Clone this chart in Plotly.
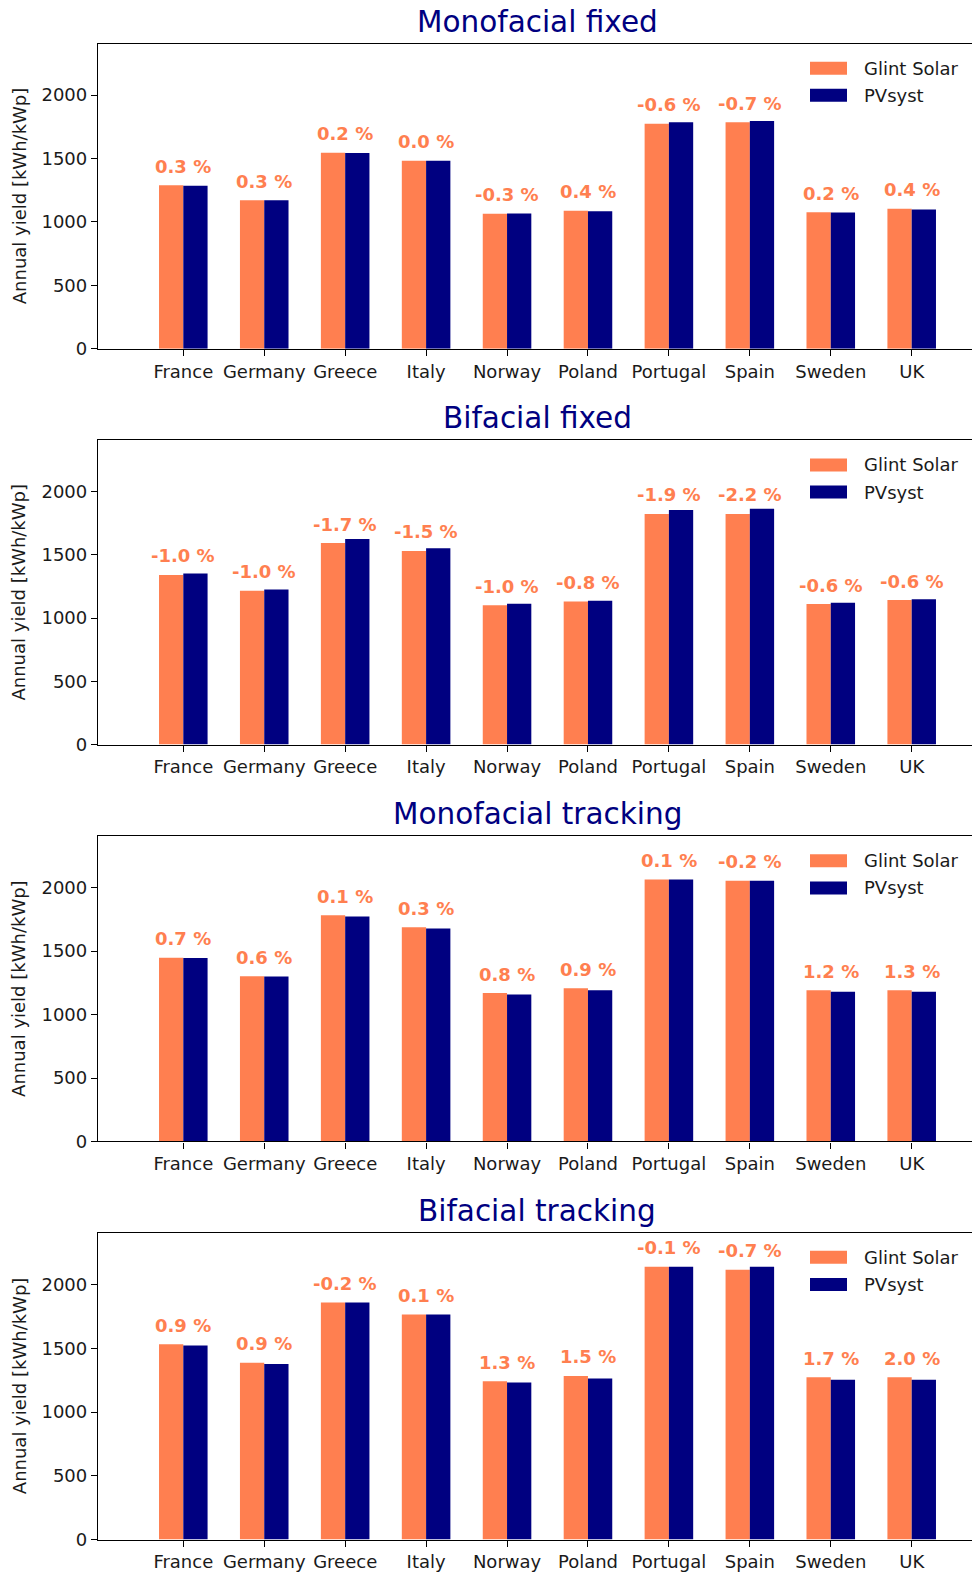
import plotly.graph_objects as go
from plotly.subplots import make_subplots

countries = ["France", "Germany", "Greece", "Italy", "Norway", "Poland",
             "Portugal", "Spain", "Sweden", "UK"]
titles = ["Monofacial fixed", "Bifacial fixed", "Monofacial tracking", "Bifacial tracking"]
series_names = ["Glint Solar", "PVsyst"]
y_label = "Annual yield [kWh/kWp]"
y_ticks = [0, 500, 1000, 1500, 2000]

glint_mono_fixed = [1290, 1171, 1545, 1482, 1064, 1088, 1775, 1786, 1077, 1103]
pvsyst_mono_fixed = [1286, 1171, 1543, 1482, 1067, 1085, 1786, 1796, 1075, 1098]
pct_mono_fixed = [0.3, 0.3, 0.2, 0.0, -0.3, 0.4, -0.6, -0.7, 0.2, 0.4]

glint_bi_fixed = [1342, 1216, 1594, 1531, 1101, 1132, 1824, 1824, 1111, 1143]
pvsyst_bi_fixed = [1353, 1227, 1625, 1552, 1114, 1138, 1856, 1866, 1122, 1150]
pct_bi_fixed = [-1.0, -1.0, -1.7, -1.5, -1.0, -0.8, -1.9, -2.2, -0.6, -0.6]

glint_mono_track = [1449, 1303, 1783, 1689, 1170, 1207, 2065, 2055, 1191, 1191]
pvsyst_mono_track = [1447, 1301, 1773, 1679, 1159, 1191, 2065, 2055, 1180, 1180]
pct_mono_track = [0.7, 0.6, 0.1, 0.3, 0.8, 0.9, 0.1, -0.2, 1.2, 1.3]

glint_bi_track = [1532, 1387, 1858, 1765, 1242, 1283, 2140, 2116, 1273, 1273]
pvsyst_bi_track = [1521, 1376, 1858, 1765, 1232, 1263, 2140, 2140, 1252, 1252]
pct_bi_track = [0.9, 0.9, -0.2, 0.1, 1.3, 1.5, -0.1, -0.7, 1.7, 2.0]

glint_all = [glint_mono_fixed, glint_bi_fixed, glint_mono_track, glint_bi_track]
pvsyst_all = [pvsyst_mono_fixed, pvsyst_bi_fixed, pvsyst_mono_track, pvsyst_bi_track]
pct_all = [pct_mono_fixed, pct_bi_fixed, pct_mono_track, pct_bi_track]

# ---- layout geometry (pixels) ----
W, H = 972, 1583
ML = 98
PW = W - ML
panel_top = [44, 443.3, 841.7, 1240.7]
panel_bot = [351, 749.3, 1148.7, 1549.3]
title_y = [22.5, 421, 819, 1219]

CORAL = "#FF7F50"
NAVY = "#000080"
FONT = "DejaVu Sans"


def px_x(p):
    return (p - ML) / PW


def px_y(p):
    return 1 - p / H


fig = make_subplots(rows=4, cols=1)

annotations = []
shapes = []
for i in range(4):
    r = i + 1
    fig.add_trace(go.Bar(x=countries, y=glint_all[i], name=series_names[0],
                         marker=dict(color=CORAL, line=dict(width=0)),
                         showlegend=False), row=r, col=1)
    fig.add_trace(go.Bar(x=countries, y=pvsyst_all[i], name=series_names[1],
                         marker=dict(color=NAVY, line=dict(width=0)),
                         showlegend=False), row=r, col=1)
    sfx = "" if i == 0 else str(r)
    xa = "xaxis" + sfx
    ya = "yaxis" + sfx
    fig.layout[xa].update(
        domain=[0, 1], range=[-1.054, 9.745], type="category",
        showline=True, linecolor="black", linewidth=1.3, mirror=True,
        ticks="outside", ticklen=6, tickwidth=1.3, tickcolor="black",
        tickfont=dict(family=FONT, size=18, color="#1a1a1a"),
        showgrid=False, zeroline=False, fixedrange=True)
    fig.layout[ya].update(
        domain=[px_y(panel_bot[i]), px_y(panel_top[i])], range=[0, 2405],
        tickvals=y_ticks, showline=True, linecolor="black", linewidth=1.3,
        mirror=False, ticks="outside", ticklen=6, tickwidth=1.3, tickcolor="black",
        tickfont=dict(family=FONT, size=18, color="#1a1a1a"),
        showgrid=False, zeroline=False, fixedrange=True)

    # value-difference labels above Glint Solar bars
    for c, g, p in zip(countries, glint_all[i], pct_all[i]):
        annotations.append(dict(
            x=c, y=g, xref="x" + sfx, yref="y" + sfx,
            text=f"{p:.1f} %", showarrow=False, yanchor="middle", xanchor="center",
            yshift=19, font=dict(family=FONT, size=18, color=CORAL, weight="bold")))

    # panel title
    annotations.append(dict(
        x=px_x(537), y=px_y(title_y[i]), xref="paper", yref="paper",
        text=titles[i], showarrow=False, xanchor="center", yanchor="middle",
        font=dict(family=FONT, size=29.5, color=NAVY)))

    # y-axis title
    annotations.append(dict(
        x=px_x(19), y=px_y((panel_top[i] + panel_bot[i]) / 2), xref="paper", yref="paper",
        text=y_label, textangle=-90, showarrow=False, xanchor="center", yanchor="middle",
        font=dict(family=FONT, size=18, color="#1a1a1a")))

    # legend
    for k, (nm, col) in enumerate(zip(series_names, [CORAL, NAVY])):
        cy = panel_top[i] + 24.6 + k * 27.3
        shapes.append(dict(type="rect", xref="paper", yref="paper",
                           x0=px_x(810), x1=px_x(847), y0=px_y(cy + 6.5), y1=px_y(cy - 6.5),
                           fillcolor=col, line=dict(width=0)))
        annotations.append(dict(
            x=px_x(862), y=px_y(cy), xref="paper", yref="paper", text=nm,
            showarrow=False, xanchor="left", yanchor="middle",
            font=dict(family=FONT, size=18, color="#1a1a1a")))

fig.update_layout(
    width=W, height=H, margin=dict(l=ML, r=0, t=0, b=0),
    barmode="group", bargap=0.4, bargroupgap=0,
    plot_bgcolor="white", paper_bgcolor="white",
    showlegend=False, annotations=annotations, shapes=shapes,
    font=dict(family=FONT),
)

fig.write_html("out.html")
